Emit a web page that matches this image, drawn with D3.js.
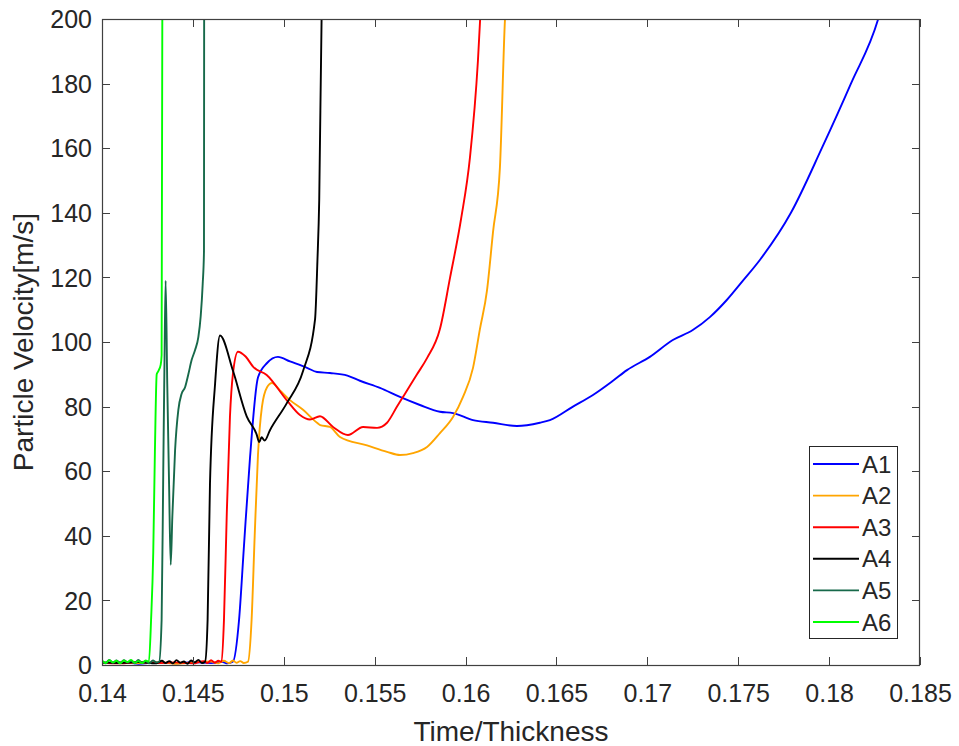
<!DOCTYPE html>
<html>
<head>
<meta charset="utf-8">
<script src="https://cdn.jsdelivr.net/npm/d3@7/dist/d3.min.js"></script>
<style>
  html, body { margin: 0; padding: 0; background: #fff; }
  svg { display: block; }
  text { font-family: "Liberation Sans", Arial, Helvetica, sans-serif; fill: #262626; }
</style>
</head>
<body>
<svg id="chart" width="959" height="746"></svg>
<script>
// ---------- DATA ----------
const seriesNames = ["A1", "A2", "A3", "A4", "A5", "A6"];
const seriesColors = ["#0000ff", "#ffa500", "#ff0000", "#000000", "#17694a", "#00ff00"];

const xTicks = [0.14, 0.145, 0.15, 0.155, 0.16, 0.165, 0.17, 0.175, 0.18, 0.185];
const xTickLabels = ["0.14", "0.145", "0.15", "0.155", "0.16", "0.165", "0.17", "0.175", "0.18", "0.185"];
const yTicks = [0, 20, 40, 60, 80, 100, 120, 140, 160, 180, 200];
const yTickLabels = ["0", "20", "40", "60", "80", "100", "120", "140", "160", "180", "200"];

const a1 = [
  [0.1400,0.6],[0.1410,0.9],[0.1420,0.4],[0.1430,0.8],[0.1440,0.5],[0.1450,0.9],[0.1460,0.6],
  [0.1466,1.0],[0.1469,0.5],[0.1472,1.0],[0.14754,14],[0.1478,36],[0.14814,64],[0.14858,89],
  [0.14908,93.5],[0.14968,95.4],[0.15034,94],[0.15128,92],[0.15183,90.7],[0.15254,90.4],
  [0.1535,89.6],[0.15419,88],[0.15529,85.8],[0.15639,83],[0.15749,80.5],[0.15859,78.4],
  [0.15931,78],[0.16041,75.8],[0.16151,75],[0.16283,74],[0.16409,75],[0.16464,75.8],
  [0.16591,80],[0.16701,83.6],[0.16811,88],[0.16888,91.3],[0.17014,95.4],[0.1714,100.6],
  [0.1725,103.7],[0.17344,107.7],[0.17437,113],[0.17526,119],[0.17619,125.4],[0.1779,140],
  [0.1796,160],[0.1812,180],[0.1827,200],[0.18295,205]
];
const a2 = [
  [0.1400,0.5],[0.1410,0.8],[0.1420,0.6],[0.1430,0.9],[0.1440,0.4],[0.1450,0.8],[0.1460,1.1],
  [0.1464,0.5],[0.1467,1.3],[0.1470,0.6],[0.1472,1.4],[0.1474,0.7],[0.1476,1.2],[0.1478,0.6],
  [0.14803,1.0],[0.14823,14],[0.1484,40],[0.14858,65],[0.1488,80],[0.14908,86],[0.14935,87.3],
  [0.14979,85],[0.15034,82],[0.15106,79],[0.15183,75],[0.152,74.3],[0.15254,73.7],[0.15309,70.6],
  [0.15458,68],[0.15568,66],[0.15639,65],[0.15711,65.6],[0.15788,67.5],[0.15859,71.8],
  [0.15931,76.8],[0.15986,83],[0.16041,92],[0.16079,104],[0.16118,116],[0.16151,134],
  [0.16189,154],[0.16217,200],[0.16222,205]
];
const a3 = [
  [0.1400,0.7],[0.1410,0.5],[0.1420,0.9],[0.1430,0.6],[0.1440,0.8],[0.1450,0.5],[0.1456,1.2],
  [0.1458,0.6],[0.1460,1.5],[0.1462,0.7],[0.1464,1.3],[0.14658,1.0],[0.14671,14],[0.14686,46],
  [0.14704,77],[0.1472,90],[0.14748,97],[0.1479,95.5],[0.14832,92.3],[0.14906,89.8],
  [0.15016,82],[0.15089,77.4],[0.15144,76],[0.15199,77],[0.15271,73.7],[0.15353,71.2],
  [0.15436,73.7],[0.15513,73.4],[0.15568,75],[0.15623,80],[0.15667,84],[0.15733,90],
  [0.15788,95],[0.15859,104],[0.15915,120],[0.15975,138],[0.16024,157],[0.16068,187],[0.16085,205]
];
const a4 = [
  [0.1400,0.8],[0.1410,0.6],[0.1420,0.9],[0.1430,0.5],[0.1433,1.3],[0.1435,0.6],[0.1437,1.2],
  [0.1439,0.5],[0.1441,1.5],[0.1443,0.7],[0.1445,1.1],[0.1447,0.4],[0.1449,1.4],[0.1451,0.8],
  [0.1453,1.6],[0.1455,0.6],[0.14567,1.0],[0.14581,14],[0.14594,56],[0.14622,87],[0.14649,102],
  [0.14721,91],[0.14796,77],[0.14850,71.5],[0.14865,69],[0.14878,70.5],[0.14895,69.5],
  [0.14924,72.7],[0.15016,81],[0.15106,91],[0.15172,107],[0.15185,125],[0.15195,144],
  [0.15208,200],[0.1521,205]
];
const a5 = [
  [0.1400,1.2],[0.1402,0.5],[0.1404,1.6],[0.1406,0.7],[0.1408,1.4],[0.1410,0.6],[0.1412,1.5],
  [0.1414,0.8],[0.1416,1.3],[0.1418,0.5],[0.1420,1.6],[0.1422,0.7],[0.1424,1.2],[0.1426,0.5],
  [0.1428,1.4],[0.1430,0.8],[0.14314,1.0],[0.14328,14],[0.14337,60],[0.14344,95],[0.1435,119],
  [0.14359,87],[0.14369,56],[0.14378,31],[0.14387,46],[0.14402,66.5],[0.1442,79],[0.14438,84],
  [0.14457,86],[0.14475,90],[0.14493,94.4],[0.14512,97.5],[0.1453,101.5],[0.14543,108],
  [0.14554,118],[0.14561,128],[0.14562,205]
];
const a6 = [
  [0.1400,1.4],[0.1402,0.6],[0.1404,1.5],[0.1406,0.8],[0.1408,1.3],[0.1410,0.5],[0.1412,1.4],
  [0.1414,0.9],[0.1416,1.6],[0.1418,0.7],[0.1420,1.2],[0.1422,0.6],[0.1424,1.4],[0.14258,1.0],
  [0.1427,14],[0.14282,35],[0.14291,66],[0.14301,90],[0.1431,91],[0.14323,93],[0.14328,96],
  [0.14332,205]
];
const seriesData = [a1, a2, a3, a4, a5, a6];

// ---------- LAYOUT ----------
const svg = d3.select("#chart");
const L = 102, R = 920, T = 19, B = 665;
const x = d3.scaleLinear().domain([0.14, 0.185]).range([L, R]);
const y = d3.scaleLinear().domain([0, 200]).range([B, T]);
const axisColor = "#404040";
const tickLen = 8;

svg.append("defs").append("clipPath").attr("id", "clip")
  .append("rect").attr("x", L).attr("y", T).attr("width", R - L).attr("height", B - T);

const line = d3.line().x(d => x(d[0])).y(d => y(d[1])).curve(d3.curveMonotoneX);
const gLines = svg.append("g").attr("clip-path", "url(#clip)");
seriesData.forEach((data, i) => {
  gLines.append("path").datum(data)
    .attr("fill", "none")
    .attr("stroke", seriesColors[i])
    .attr("stroke-width", 1.9)
    .attr("stroke-linejoin", "round")
    .attr("d", line);
});

const xAxisB = d3.axisBottom(x).tickValues(xTicks).tickSize(0).tickFormat((d, i) => xTickLabels[i]);
const yAxisL = d3.axisLeft(y).tickValues(yTicks).tickSize(0).tickFormat((d, i) => yTickLabels[i]).tickPadding(10);

const gx = svg.append("g").attr("transform", `translate(0,${B})`).call(xAxisB);
gx.select(".domain").remove();
gx.selectAll("text").attr("font-size", 25).attr("fill", "#262626")
  .attr("dy", null).attr("y", 37);

const gy = svg.append("g").attr("transform", `translate(${L},0)`).call(yAxisL);
gy.select(".domain").remove();
gy.selectAll("text").attr("font-size", 25).attr("fill", "#262626").attr("dy", "0.35em");

const gt = svg.append("g").attr("stroke", axisColor).attr("stroke-width", 1);
xTicks.forEach(t => {
  const px = Math.round(x(t)) + 0.5;
  gt.append("line").attr("x1", px).attr("x2", px).attr("y1", B).attr("y2", B - tickLen);
  gt.append("line").attr("x1", px).attr("x2", px).attr("y1", T).attr("y2", T + tickLen);
});
yTicks.forEach(t => {
  const py = Math.round(y(t)) + 0.5;
  gt.append("line").attr("x1", L).attr("x2", L + tickLen).attr("y1", py).attr("y2", py);
  gt.append("line").attr("x1", R).attr("x2", R - tickLen).attr("y1", py).attr("y2", py);
});

svg.append("rect").attr("x", L + 0.5).attr("y", T + 0.5).attr("width", R - L - 1).attr("height", B - T)
  .attr("fill", "none").attr("stroke", axisColor).attr("stroke-width", 1.2);

svg.append("text").attr("x", (L + R) / 2).attr("y", 741).attr("text-anchor", "middle")
  .attr("font-size", 28).text("Time/Thickness");
svg.append("text").attr("transform", `translate(33,${(T + B) / 2}) rotate(-90)`)
  .attr("text-anchor", "middle").attr("font-size", 28).text("Particle Velocity[m/s]");

const lg = svg.append("g");
lg.append("rect").attr("x", 809.5).attr("y", 446.5).attr("width", 88).attr("height", 192)
  .attr("fill", "#fff").attr("stroke", "#262626").attr("stroke-width", 1);
seriesNames.forEach((name, i) => {
  const cy = 464 + i * 31.6;
  lg.append("line").attr("x1", 813).attr("x2", 859).attr("y1", cy).attr("y2", cy)
    .attr("stroke", seriesColors[i]).attr("stroke-width", 1.9);
  lg.append("text").attr("x", 862).attr("y", cy).attr("dy", "0.36em")
    .attr("font-size", 24).text(name);
});
</script>
</body>
</html>
